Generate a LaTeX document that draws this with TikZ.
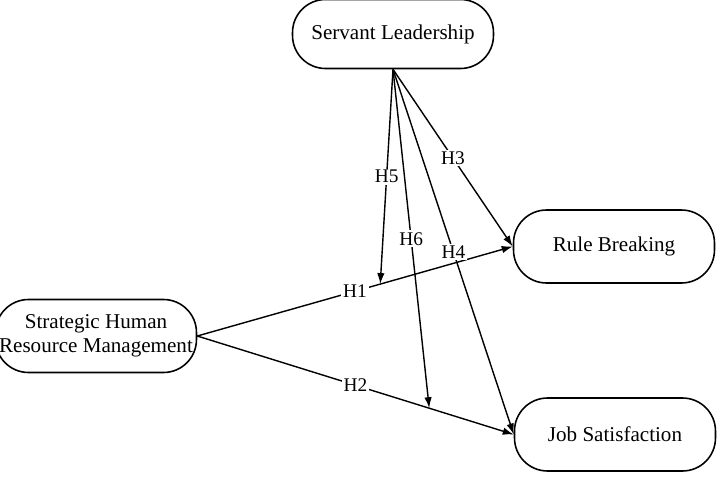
\documentclass[tikz,border=0pt]{standalone}
\usepackage{fontspec}
\setmainfont{Liberation Serif}
\usetikzlibrary{arrows.meta,positioning,calc}
\tikzset{%
  % classes
  construct/.style={draw, line width=0.9pt, rounded corners=0.66cm, align=center,
    minimum width=4.02cm, minimum height=1.46cm, inner sep=2pt, font=\fontsize{12}{13.5}\selectfont},
  % edge styles
  rel/.style={-{Latex[length=2.2mm,width=1.5mm]}, line width=0.8pt},
  hyp/.style={fill=white, inner sep=1pt, font=\fontsize{11}{12}\selectfont},
}

\begin{document}
\begin{tikzpicture}[x=0.02cm, y=-0.02cm]
  \clip (0,0) rectangle (721,481);

  % Constructs
  \node[construct, minimum height=1.38cm] (sl) at (393,34) {Servant Leadership};
  \node[construct] (shrm) at (96,336) {Strategic Human\\Resource Management};
  \node[construct] (rb) at (614,246.5) {Rule Breaking};
  \node[construct] (js) at (615,434.5) {Job Satisfaction};

  % Moderation points
  \path (shrm.east) -- (rb.west) coordinate[pos=0.58] (m1);
  \path (shrm.east) -- (js.west) coordinate[pos=0.733] (m2);

  % Links
  \draw[rel] (shrm.east) -- node[hyp] {H1} (rb.west);
  \draw[rel] (shrm.east) -- node[hyp] {H2} (js.west);
  \draw[rel] (sl.south) -- node[hyp] {H3} (rb.west);
  \draw[rel] (sl.south) -- node[hyp] {H4} (js.west);
  \draw[rel] (sl.south) -- node[hyp] {H5} (m1);
  \draw[rel] (sl.south) -- node[hyp] {H6} (m2);
\end{tikzpicture}
\end{document}
